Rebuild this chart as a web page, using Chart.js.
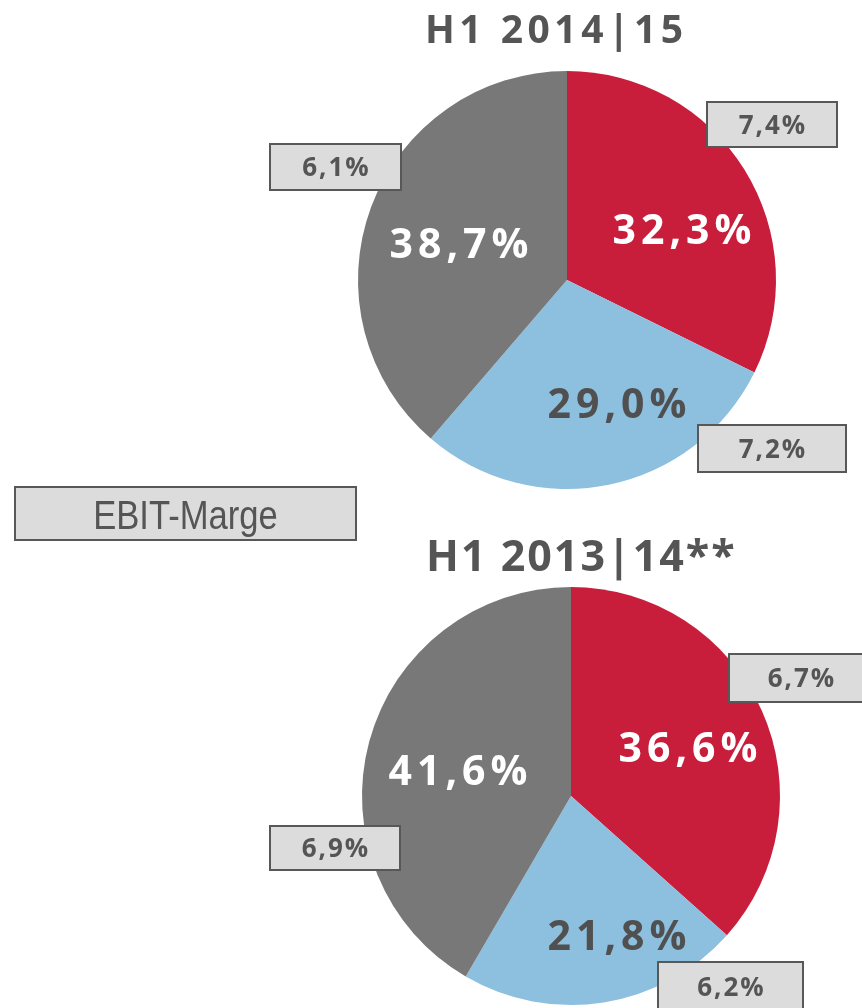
<!DOCTYPE html>
<html>
<head>
<meta charset="utf-8">
<script src="https://cdn.jsdelivr.net/npm/chart.js@4.4.1/dist/chart.umd.min.js"></script>
<style>
  html, body { margin: 0; padding: 0; background: #ffffff; }
  #wrap { position: relative; width: 862px; height: 1008px; overflow: hidden; }
  #wrap canvas { position: absolute; left: 0; top: 0; }
</style>
</head>
<body>
<div id="wrap">
  <canvas id="c1" width="862" height="1008"></canvas>
  <canvas id="c2" width="862" height="1008"></canvas>
</div>
<script>
// ---- data ----
const segments = ['Segment Rot', 'Segment Blau', 'Segment Grau'];
const periodTitles = ['H1 2014|15', 'H1 2013|14**'];
const sharesH1_2014_15 = [32.3, 29.0, 38.7];
const sharesH1_2013_14 = [36.6, 21.8, 41.6];
const ebitMarginH1_2014_15 = [7.4, 7.2, 6.1];
const ebitMarginH1_2013_14 = [6.7, 6.2, 6.9];
const ebitLegendLabel = 'EBIT-Marge';

// ---- style ----
const segColors = ['#C81E3C', '#8DBFDF', '#787878'];
const insideTextColors = ['#ffffff', '#505050', '#ffffff'];
const darkText = '#555555';
const boxFill = '#DCDCDC';
const boxStroke = '#585858';
const FONT = '"Open Sans", "Liberation Sans", Arial, sans-serif';

function fmt(v) { return v.toFixed(1).replace('.', ',') + '%'; }

function drawText(ctx, txt, x, y, font, color, ls, align, sx) {
  sx = sx || 1;
  ctx.save();
  ctx.font = font;
  ctx.fillStyle = color;
  try { ctx.letterSpacing = ls + 'px'; } catch (e) {}
  ctx.textBaseline = 'alphabetic';
  ctx.textAlign = 'left';
  const w = (ctx.measureText(txt).width - ls) * sx;
  let left = x;
  if (align === 'center') left = x - w / 2;
  ctx.translate(left, y);
  ctx.scale(sx, 1);
  ctx.fillText(txt, 0, 0);
  ctx.restore();
}

function drawBox(ctx, b) {
  ctx.save();
  ctx.fillStyle = boxFill;
  ctx.fillRect(b.x, b.y, b.w, b.h);
  ctx.strokeStyle = boxStroke;
  ctx.lineWidth = 2;
  ctx.strokeRect(b.x, b.y, b.w, b.h);
  ctx.restore();
}

// layout for each pie: title baseline, inside label offsets (relative to pie centre), boxes
const layouts = [
  {
    padding: { left: 358, right: 86, top: 71, bottom: 519 },
    title: { x: 425, y: 43, size: 39, ls: 4.5 },
    inside: [ [115, -36], [50, 138], [-108, -22] ],
    boxes: [ { x: 707, y: 102, w: 130, h: 45 }, { x: 698, y: 425, w: 148, h: 47 }, { x: 270, y: 144, w: 131, h: 46 } ],
    shares: sharesH1_2014_15,
    margins: ebitMarginH1_2014_15,
    legendBox: { x: 15, y: 487, w: 341, h: 53 }
  },
  {
    padding: { left: 362, right: 82, top: 587, bottom: 3 },
    title: { x: 426, y: 571, size: 43, ls: 2 },
    inside: [ [117, -34], [46, 154], [-113, -11] ],
    boxes: [ { x: 729, y: 654, w: 144, h: 48 }, { x: 658, y: 962, w: 145, h: 50 }, { x: 270, y: 826, w: 130, h: 44 } ],
    shares: sharesH1_2013_14,
    margins: ebitMarginH1_2013_14,
    legendBox: null
  }
];

function makeChart(id, idx) {
  const L = layouts[idx];
  const overlay = {
    id: 'overlay' + idx,
    afterDatasetsDraw(chart) {
      const ctx = chart.ctx;
      const arcs = chart.getDatasetMeta(0).data;
      // inside labels
      arcs.forEach((arc, i) => {
        const off = L.inside[i];
        drawText(ctx, fmt(L.shares[i]), arc.x + off[0], arc.y + off[1],
          '700 41px ' + FONT, insideTextColors[i], 5, 'center');
      });
      // EBIT margin boxes
      L.boxes.forEach((b, i) => {
        drawBox(ctx, b);
        drawText(ctx, fmt(L.margins[i]), b.x + b.w / 2, b.y + b.h / 2 + 9,
          '700 26px ' + FONT, darkText, 2, 'center');
      });
      // title
      drawText(ctx, periodTitles[idx], L.title.x, L.title.y,
        '700 ' + L.title.size + 'px ' + FONT, darkText, L.title.ls, 'left');
      // legend box
      if (L.legendBox) {
        const b = L.legendBox;
        drawBox(ctx, b);
        drawText(ctx, ebitLegendLabel, 185.5, 529,
          '400 40px "Liberation Sans", Arial, sans-serif', darkText, 0, 'center', 0.865);
      }
    }
  };
  return new Chart(document.getElementById(id), {
    type: 'pie',
    data: {
      labels: segments,
      datasets: [{
        data: L.shares,
        backgroundColor: segColors,
        borderWidth: 0,
        hoverOffset: 0,
        offset: 0
      }]
    },
    options: {
      responsive: false,
      animation: false,
      events: [],
      radius: 209,
      layout: { padding: L.padding },
      plugins: { legend: { display: false }, tooltip: { enabled: false } }
    },
    plugins: [overlay]
  });
}

makeChart('c1', 0);
makeChart('c2', 1);
</script>
</body>
</html>
